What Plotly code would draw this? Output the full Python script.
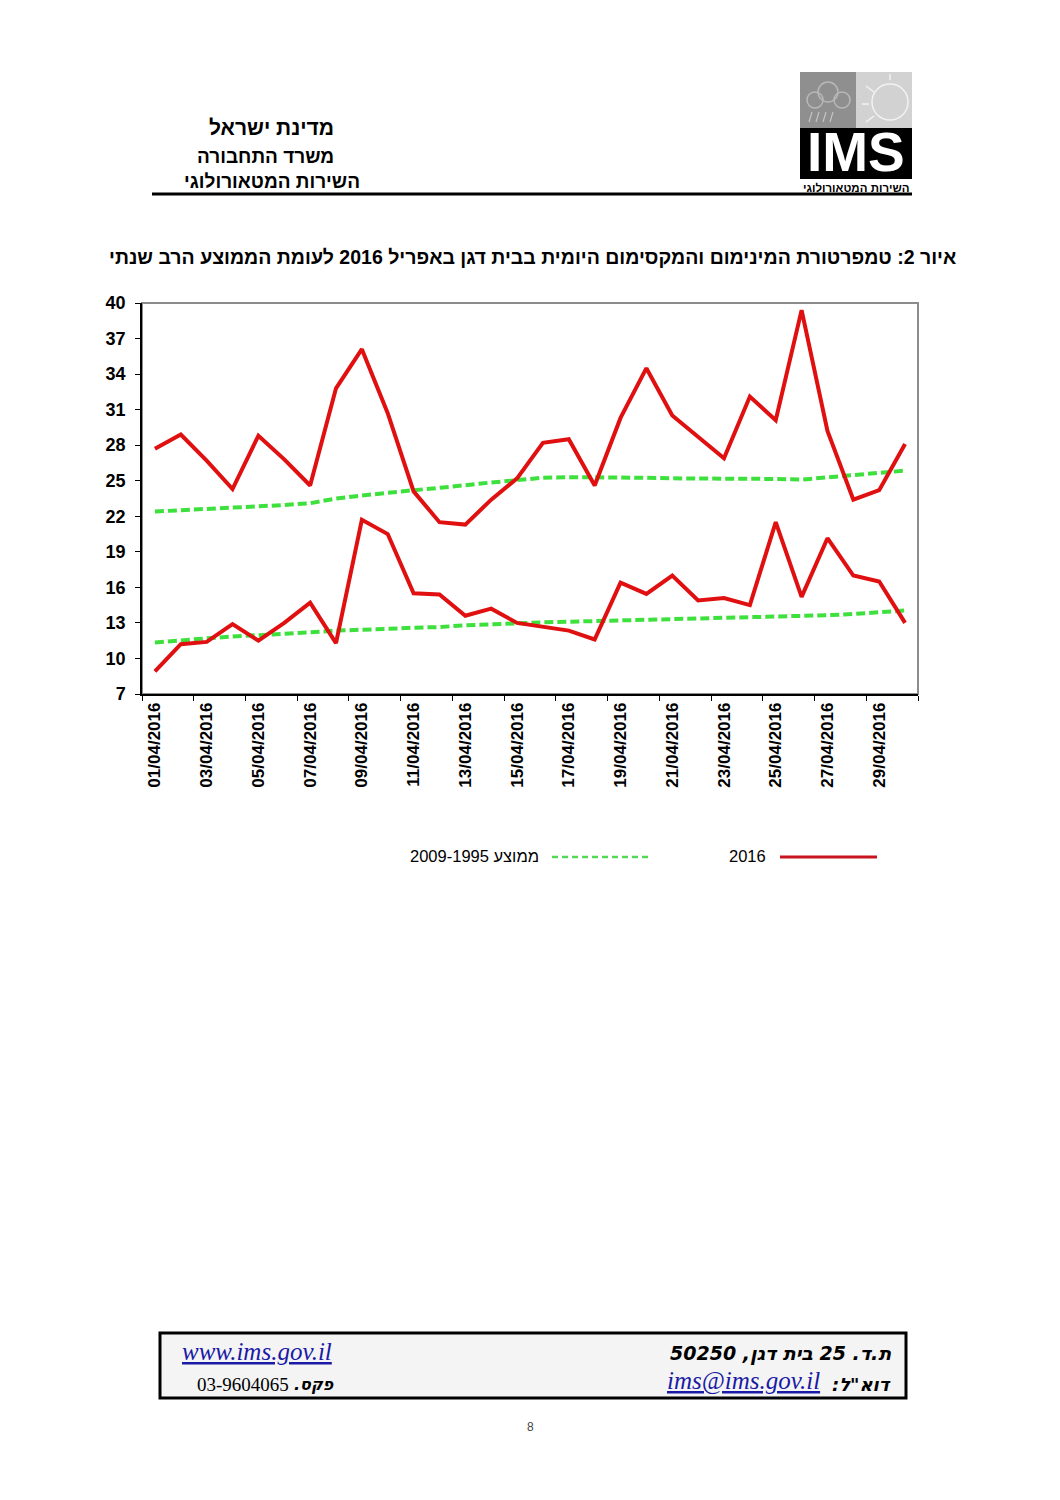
import plotly.graph_objects as go

# April 2016, Bet Dagan - daily temperatures
days = [f"{d:02d}/04/2016" for d in range(1, 31)]

max_2016 = [27.7, 28.9, 26.7, 24.3, 28.8, 26.8, 24.6, 32.8, 36.1, 30.7,
            24.1, 21.5, 21.3, 23.4, 25.2, 28.2, 28.5, 24.6, 30.3, 34.5,
            30.5, 28.7, 26.9, 32.1, 30.1, 39.4, 29.2, 23.4, 24.2, 28.1]
min_2016 = [8.9, 11.2, 11.4, 12.9, 11.5, 13.0, 14.7, 11.3, 21.7, 20.5,
            15.5, 15.4, 13.6, 14.2, 13.0, 12.7, 12.35, 11.6, 16.4, 15.45,
            17.0, 14.9, 15.1, 14.5, 21.5, 15.2, 20.15, 17.0, 16.5, 13.0]
avg_max = [22.4, 22.5, 22.6, 22.7, 22.85, 22.95, 23.1, 23.5, 23.75, 24.0,
           24.2, 24.4, 24.65, 24.85, 25.05, 25.25, 25.3, 25.3, 25.25, 25.25,
           25.2, 25.2, 25.2, 25.2, 25.15, 25.1, 25.3, 25.5, 25.7, 25.85]
avg_min = [11.35, 11.55, 11.7, 11.85, 11.95, 12.05, 12.2, 12.35, 12.4, 12.5,
           12.6, 12.65, 12.8, 12.9, 13.0, 13.05, 13.1, 13.15, 13.2, 13.25,
           13.3, 13.35, 13.4, 13.45, 13.5, 13.55, 13.65, 13.75, 13.9, 14.05]

y_ticks = [7, 10, 13, 16, 19, 22, 25, 28, 31, 34, 37, 40]

RED = "#e01010"
GREEN = "#3ee03e"
FONT = "Liberation Sans, Arial, sans-serif"
SERIF = "Liberation Serif, Times New Roman, serif"
HEB_ITALIC = "DejaVu Sans, sans-serif"
RLM = "\u200f"

# page geometry (browser body keeps an 8px margin)
OFF = 8
W, H = 1044, 1484
L, R, T, B = 134, 134, 295, 798
PW, PH = W - L - R, H - T - B


def px(x):
    return (x - OFF - L) / PW


def py(y):
    return 1 - (y - OFF - T) / PH


fig = go.Figure()

for ys in (avg_max, avg_min):
    fig.add_trace(go.Scatter(x=days, y=ys, mode="lines", showlegend=False,
                             line=dict(color=GREEN, width=4, dash="9px,4px")))
for ys in (max_2016, min_2016):
    fig.add_trace(go.Scatter(x=days, y=ys, mode="lines", showlegend=False,
                             line=dict(color=RED, width=4)))

shapes = []
annotations = []


def text(x, y, s, size, anchor="right", bold=False, italic=False, color="black",
         font=FONT, underline=False):
    if underline:
        s = f"<u>{s}</u>"
    annotations.append(dict(
        x=px(x), y=py(y), xref="paper", yref="paper", text=s, showarrow=False,
        xanchor=anchor, yanchor="middle",
        font=dict(family=font, size=size, color=color,
                  weight="bold" if bold else "normal",
                  style="italic" if italic else "normal")))


def rect(x0, y0, x1, y1, fill=None, line_color=None, width=0, layer="above"):
    shapes.append(dict(type="rect", xref="paper", yref="paper",
                       x0=px(x0), x1=px(x1), y0=py(y0), y1=py(y1),
                       fillcolor=fill, layer=layer,
                       line=dict(color=line_color, width=width)))


def line(x0, y0, x1, y1, color, width, dash=None):
    shapes.append(dict(type="line", xref="paper", yref="paper",
                       x0=px(x0), x1=px(x1), y0=py(y0), y1=py(y1),
                       line=dict(color=color, width=width, dash=dash)))


# plot frame (gray top/right)
shapes.append(dict(type="rect", xref="paper", yref="paper", x0=0, x1=1, y0=0, y1=1,
                   line=dict(color="#8c8c8c", width=2), layer="below"))

# header
text(336, 128, "מדינת ישראל", 21, bold=True)
text(336, 156, "משרד התחבורה", 19, bold=True)
text(362, 181, "השירות המטאורולוגי", 19, bold=True)
line(152, 194, 912, 194, "black", 3)

# logo
rect(800, 72, 856, 128, fill="#8f8f8f")
rect(856, 72, 912, 128, fill="#d2d2d2")
rect(800, 128, 912, 179, fill="black")
for cx, cy, r in [(815, 100, 8), (828, 92, 10), (842, 100, 8)]:
    shapes.append(dict(type="circle", xref="paper", yref="paper",
                       x0=px(cx - r), x1=px(cx + r), y0=py(cy - r), y1=py(cy + r),
                       line=dict(color="#b8b8b8", width=1.5)))
for i in range(4):
    line(812 + i * 7, 112, 809 + i * 7, 122, "#c4c4c4", 1.2)
shapes.append(dict(type="circle", xref="paper", yref="paper",
                   x0=px(872), x1=px(908), y0=py(84), y1=py(120),
                   line=dict(color="#f2f2f2", width=1.5)))
line(866, 86, 874, 92, "#f2f2f2", 1.5)
line(890, 74, 890, 80, "#f2f2f2", 1.5)
line(862, 104, 869, 104, "#f2f2f2", 1.5)
line(866, 122, 874, 116, "#f2f2f2", 1.5)
text(856, 152, "IMS", 55, anchor="center", bold=True, color="white")
text(856, 188, "השירות המטאורולוגי", 11.5, anchor="center", bold=True)

# title
text(958, 257, "איור 2: טמפרטורת המינימום והמקסימום היומית בבית דגן באפריל 2016 לעומת הממוצע הרב שנתי",
     19.5, bold=True)

# custom legend (text left of the sample line, as in the original)
text(541, 856, "ממוצע 2009-1995", 16.5)
line(552, 857, 648, 857, "#55d855", 2.5, dash="6px,4px")
text(768, 856, "2016", 16.5)
line(780, 857, 877, 857, "#c8141e", 3)

# footer box
rect(160, 1333, 906, 1398, fill="#f4f4f4", line_color="black", width=3)
text(180, 1351, "www.ims.gov.il", 25, anchor="left", italic=True, color="#1a1aa6",
     font=SERIF, underline=True)
text(893, 1353, RLM + "ת.ד. 25 בית דגן, 50250" + RLM, 19, bold=True, italic=True,
     font=HEB_ITALIC)
text(893, 1384, RLM + "דוא\"ל:" + RLM, 18, bold=True, italic=True, font=HEB_ITALIC)
text(822, 1381, "ims@ims.gov.il", 25, italic=True, color="#1a1aa6",
     font=SERIF, underline=True)
text(336, 1384, RLM + "פקס." + RLM, 16, bold=True, italic=True, font=HEB_ITALIC)
text(195, 1384, "03-9604065", 19, anchor="left", font=SERIF)

# page number
text(530, 1427, "8", 12, anchor="center", color="#444444")

fig.update_layout(
    width=W, height=H,
    margin=dict(l=L, r=R, t=T, b=B),
    paper_bgcolor="white", plot_bgcolor="white",
    font=dict(family=FONT, color="black"),
    shapes=shapes, annotations=annotations,
    xaxis=dict(type="category", range=[-0.5, 29.5], tickmode="linear", tick0=0, dtick=2,
               tickson="boundaries", ticks="outside", ticklen=5, tickcolor="black",
               showline=True, linecolor="black", linewidth=1.5,
               showgrid=False, tickangle=-90,
               tickfont=dict(size=17, weight="bold")),
    yaxis=dict(range=[7, 40], tickvals=y_ticks, ticks="outside", ticklen=5,
               tickcolor="black", showline=True, linecolor="black", linewidth=1.5,
               showgrid=False, zeroline=False, ticklabelstandoff=6,
               tickfont=dict(size=18, weight="bold")),
)

fig.write_html("out.html")
